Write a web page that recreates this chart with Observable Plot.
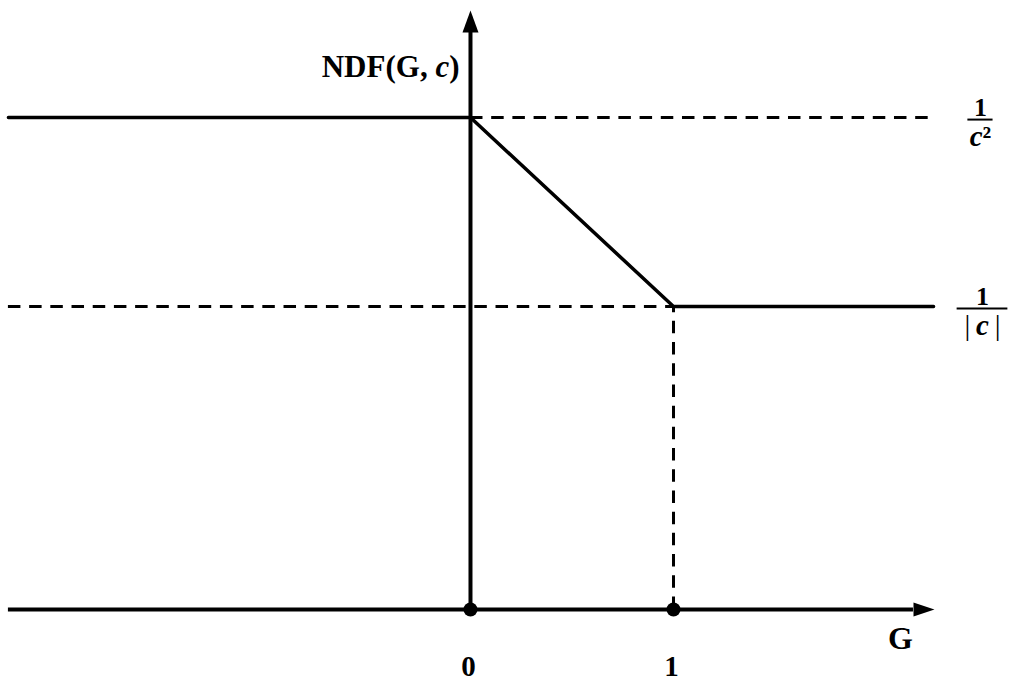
<!DOCTYPE html>
<html>
<head>
<meta charset="utf-8">
<script src="https://cdn.jsdelivr.net/npm/d3@7"></script>
<script src="https://cdn.jsdelivr.net/npm/@observablehq/plot@0.6"></script>
<style>
  html, body { margin: 0; padding: 0; background: #fff; }
  #chart svg { display: block; }
</style>
</head>
<body>
<div id="chart"></div>
<script>
// NDF(G, c): flat at 1/c² for G ≤ 0, falls linearly to 1/|c| at G = 1, flat afterwards.
const curveG   = [-2.276, 0, 1, 2.281];
const curveNDF = [2.63, 2.63, 1.62, 1.62];

// plateau levels (1/c² and 1/|c|) and their labels
const levels       = [2.63, 1.62];
const levelNumer   = ["1", "1"];
const levelDenom   = ["c²", "|c|"];

// breakpoints marked on the G axis
const tickValues = [0, 1];
const tickLabels = ["0", "1"];

// extents of the two axes (before their arrowheads)
const xAxisExtent = [-2.276, 2.182];
const yAxisExtent = [0, 3.085];

// where the plateau labels sit along G
const levelLabelG = [2.512, 2.522];
const levelBarHalf = [0.062, 0.125];

const font = "'Liberation Serif', 'Times New Roman', serif";
const dash = "12.5 8.7";

// filled arrowheads, drawn with their base at the anchor point
const arrowUp = {
  draw(ctx) { ctx.moveTo(-8, 0); ctx.lineTo(0, -22); ctx.lineTo(8, 0); ctx.closePath(); }
};
const arrowRight = {
  draw(ctx) { ctx.moveTo(0, -7); ctx.lineTo(21, 0); ctx.lineTo(0, 7); ctx.closePath(); }
};

const plot = Plot.plot({
  width: 1009,
  height: 683,
  margin: 0,
  x: { domain: [-2.315, 2.655], axis: null },
  y: { domain: [-0.396, 3.256], axis: null },
  style: { fontFamily: font, background: "#fff", color: "#000" },
  marks: [
    // dashed guides
    Plot.ruleY([levels[0]], { x1: 0, x2: curveG[3], stroke: "#000", strokeWidth: 3, strokeDasharray: dash }),
    Plot.ruleY([levels[1]], { x1: curveG[0], x2: tickValues[1], stroke: "#000", strokeWidth: 3, strokeDasharray: dash }),
    Plot.ruleX([tickValues[1]], { y1: 0, y2: levels[1], stroke: "#000", strokeWidth: 3, strokeDasharray: dash }),

    // axes
    Plot.ruleY([0], { x1: xAxisExtent[0], x2: xAxisExtent[1], stroke: "#000", strokeWidth: 4 }),
    Plot.ruleX([0], { y1: yAxisExtent[0], y2: yAxisExtent[1], stroke: "#000", strokeWidth: 4 }),
    Plot.dot([0], { x: () => xAxisExtent[1], y: 0, symbol: arrowRight, r: 10, fill: "#000", stroke: "none" }),
    Plot.dot([0], { x: 0, y: () => yAxisExtent[1], symbol: arrowUp, r: 10, fill: "#000", stroke: "none" }),

    // the NDF curve
    Plot.line(curveG, { x: curveG, y: curveNDF, stroke: "#000", strokeWidth: 3.5, strokeLinejoin: "miter" }),

    // breakpoint dots
    Plot.dot(tickValues, { x: d => d, y: 0, r: 7, fill: "#000", stroke: "none" }),

    // tick labels and axis titles
    Plot.text(tickValues, { x: d => d, y: 0, text: (d, i) => tickLabels[i], dx: -2, dy: 57, fontSize: 29, fontWeight: "bold" }),
    Plot.text(["G"], { x: () => xAxisExtent[1], y: 0, dx: -13, dy: 29, fontSize: 32, fontWeight: "bold" }),
    Plot.text(["NDF(G, c)"], { x: 0, y: levels[0], dx: -11, dy: -50, textAnchor: "end", fontSize: 31, fontWeight: "bold" }),

    // plateau labels as fractions
    Plot.text(levels, { x: (d, i) => levelLabelG[i], y: d => d, text: (d, i) => levelNumer[i], dy: -10, fontSize: 26, fontWeight: "bold" }),
    Plot.ruleY(levels, { y: d => d, x1: (d, i) => levelLabelG[i] - levelBarHalf[i], x2: (d, i) => levelLabelG[i] + levelBarHalf[i], dy: 2, stroke: "#000", strokeWidth: 2 }),
    Plot.text(levels, { x: (d, i) => levelLabelG[i], y: d => d, text: (d, i) => levelDenom[i], dy: 19, fontSize: 29, fontWeight: "bold" })
  ]
});

// italic variable c inside the formulas
const SVGNS = "http://www.w3.org/2000/svg";
function setRuns(el, runs) {
  el.textContent = "";
  for (const [s, attrs] of runs) {
    const t = document.createElementNS(SVGNS, "tspan");
    t.textContent = s;
    for (const k in attrs) t.setAttribute(k, attrs[k]);
    el.appendChild(t);
  }
}
const it = { "font-style": "italic" };
for (const t of plot.querySelectorAll("text")) {
  const s = t.textContent;
  if (s === "NDF(G, c)") setRuns(t, [["NDF(G, ", {}], ["c", it], [")", {}]]);
  else if (s === "c²") setRuns(t, [["c", it], ["²", {}]]);
  else if (s === "|c|") setRuns(t, [["|", { "font-weight": "normal" }], ["\u2009c\u2009", it], ["|", { "font-weight": "normal" }]]);
}

document.getElementById("chart").appendChild(plot);
</script>
</body>
</html>
